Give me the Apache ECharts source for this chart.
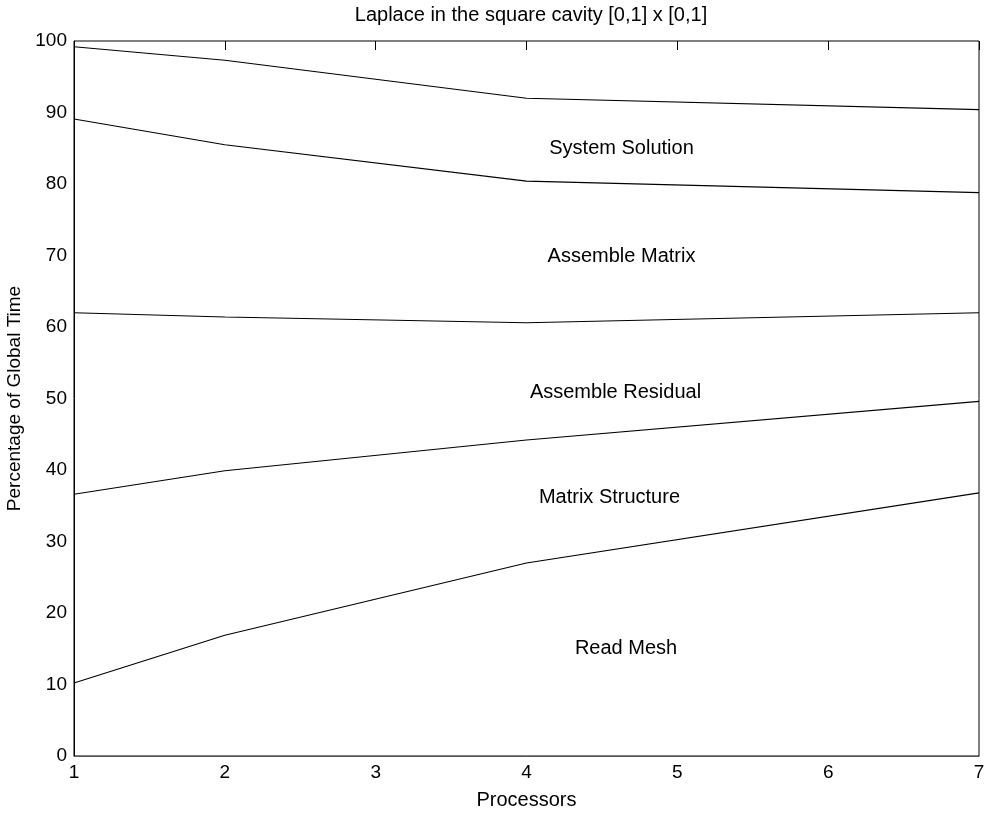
<!DOCTYPE html>
<html>
<head>
<meta charset="utf-8">
<style>
  html, body { margin: 0; padding: 0; background: #fff; }
  #chart { width: 986px; height: 814px; }
</style>
<script src="https://cdn.jsdelivr.net/npm/echarts@6/dist/echarts.min.js"></script>
</head>
<body>
<div id="chart"></div>
<script>
// Number of processors at which timings were taken
const processors = [1, 2, 4, 7];

// Cumulative share of global time (%) at the top of each phase band
const readMesh         = [10.2, 16.9, 27.0, 36.8];
const matrixStructure  = [36.6, 39.9, 44.2, 49.6];
const assembleResidual = [62.0, 61.4, 60.6, 62.0];
const assembleMatrix   = [89.1, 85.5, 80.4, 78.8];
const systemSolution   = [99.2, 97.3, 92.0, 90.4];

// Band names and the (processors, percent) spot where each is written
const bandNames  = ['System Solution', 'Assemble Matrix', 'Assemble Residual', 'Matrix Structure', 'Read Mesh'];
const bandLabelX = [4.63, 4.63, 4.59, 4.55, 4.66];
const bandLabelY = [84.9, 69.8, 50.9, 36.2, 15.0];

const xTicks = [1, 2, 3, 4, 5, 6, 7];
const yTicks = [0, 10, 20, 30, 40, 50, 60, 70, 80, 90, 100];

const FONT = '"Liberation Sans", Arial, Helvetica, sans-serif';

function boundary(values) {
  return {
    type: 'line',
    data: processors.map((p, i) => [p, values[i]]),
    showSymbol: false,
    symbol: 'none',
    lineStyle: { color: '#000', width: 1.1 },
    silent: true,
    animation: false
  };
}

const chart = echarts.init(document.getElementById('chart'), null, { renderer: 'canvas' });

chart.setOption({
  backgroundColor: '#fff',
  animation: false,
  title: {
    text: 'Laplace in the square cavity [0,1] x [0,1]',
    left: 526,
    top: 0,
    textAlign: 'center',
    textStyle: { fontFamily: FONT, fontSize: 20, fontWeight: 'normal', color: '#000' }
  },
  grid: {
    left: 74, right: 7, top: 41, bottom: 58,
    outerBoundsMode: 'none',
    containLabel: false,
    show: true, borderColor: '#000', borderWidth: 1
  },
  xAxis: [
    {
      type: 'value',
      min: xTicks[0], max: xTicks[xTicks.length - 1], interval: 1,
      name: 'Processors',
      nameLocation: 'middle',
      nameGap: 34,
      nameTextStyle: { fontFamily: FONT, fontSize: 20, color: '#000' },
      axisLine: { show: true, lineStyle: { color: '#555', width: 1 } },
      axisTick: { show: false },
      splitLine: { show: false },
      axisLabel: { fontFamily: FONT, fontSize: 19, color: '#000', margin: 7 }
    },
    {
      type: 'value',
      position: 'top',
      min: xTicks[0], max: xTicks[xTicks.length - 1], interval: 1,
      axisLine: { show: false },
      axisTick: { show: true, inside: true, length: 9, lineStyle: { color: '#000', width: 1 } },
      axisLabel: { show: false },
      splitLine: { show: false }
    }
  ],
  yAxis: {
    type: 'value',
    min: yTicks[0], max: yTicks[yTicks.length - 1], interval: 10,
    name: 'Percentage of Global Time',
    nameLocation: 'middle',
    nameGap: 50,
    nameTextStyle: { fontFamily: FONT, fontSize: 19, color: '#000' },
    axisLine: { show: true, lineStyle: { color: '#000', width: 1 } },
    axisTick: { show: false },
    splitLine: { show: false },
    axisLabel: { fontFamily: FONT, fontSize: 19, color: '#000', margin: 7 }
  },
  series: [
    boundary(readMesh),
    boundary(matrixStructure),
    boundary(assembleResidual),
    boundary(assembleMatrix),
    boundary(systemSolution),
    {
      type: 'scatter',
      symbolSize: 0,
      silent: true,
      itemStyle: { color: '#000', opacity: 1 },
      data: bandNames.map((n, i) => ({ value: [bandLabelX[i], bandLabelY[i]], name: n })),
      label: {
        show: true,
        position: 'inside',
        formatter: p => p.name,
        fontFamily: FONT,
        fontSize: 20,
        color: '#000',
        opacity: 1
      }
    }
  ]
});
</script>
</body>
</html>
